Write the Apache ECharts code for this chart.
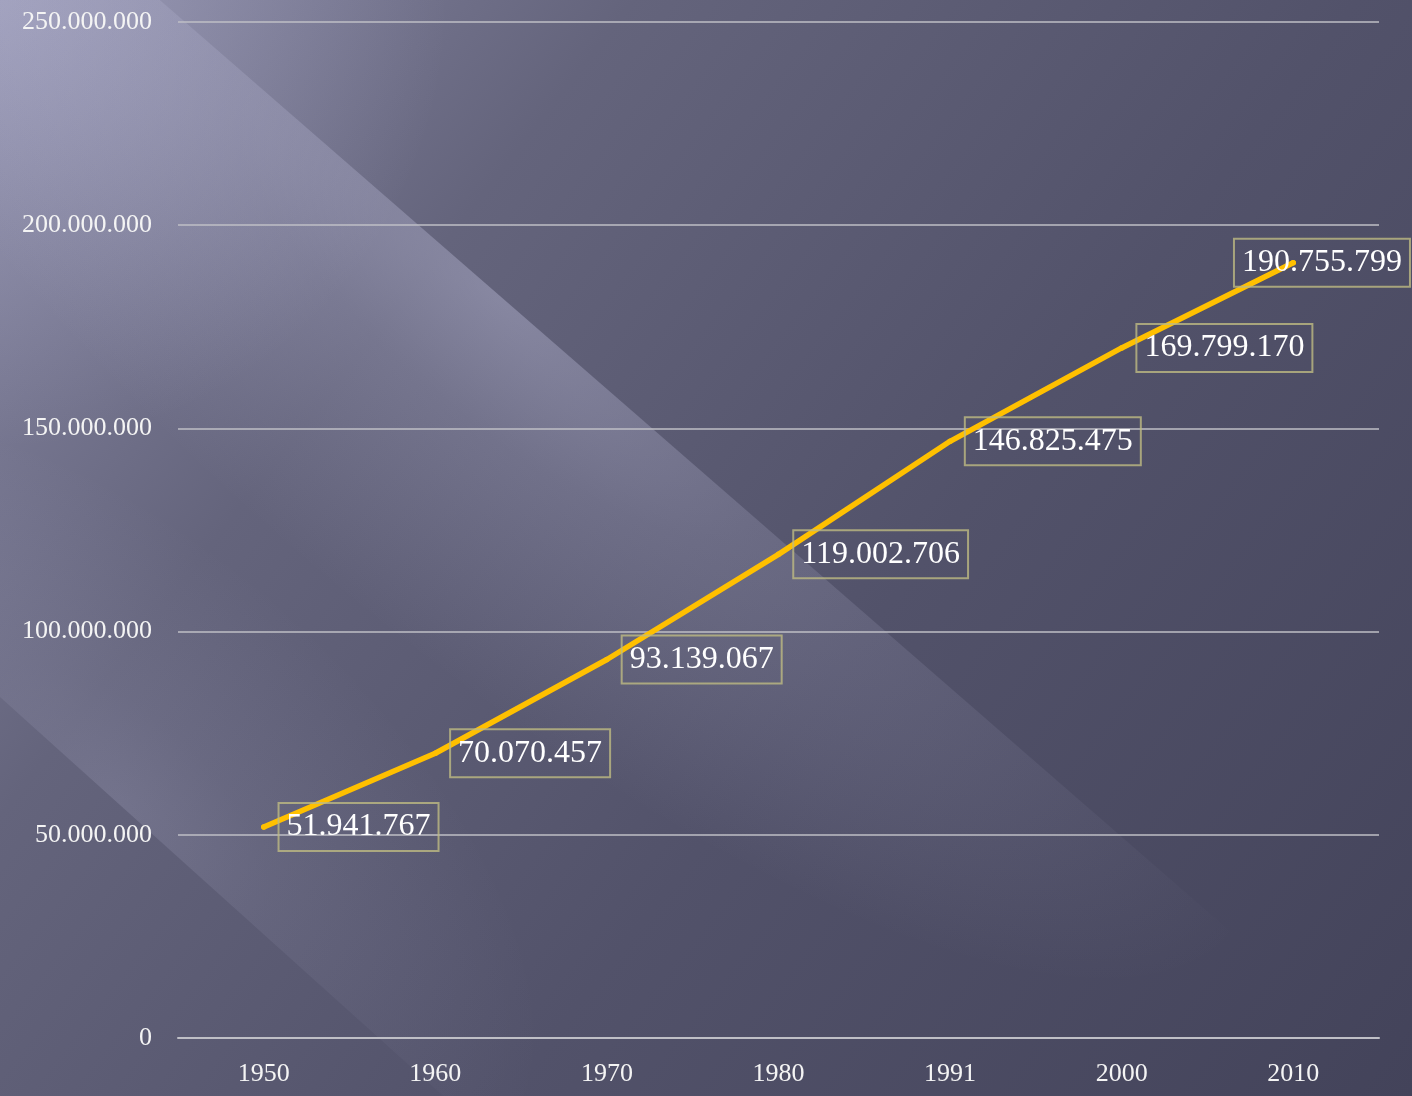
<!DOCTYPE html>
<html>
<head>
<meta charset="utf-8">
<style>html,body{margin:0;padding:0;background:#50506a;}#c{width:1412px;height:1096px;}</style>
<script src="https://cdn.jsdelivr.net/npm/echarts@6/dist/echarts.min.js"></script>
</head>
<body>
<div id="c"></div>
<script>
const years = ['1950','1960','1970','1980','1991','2000','2010'];
const population = [51941767, 70070457, 93139067, 119002706, 146825475, 169799170, 190755799];
const yTicks = [0, 50000000, 100000000, 150000000, 200000000, 250000000];

function fmt(v){ return String(v).replace(/\B(?=(\d{3})+(?!\d))/g, '.'); }

// decorative light ray for the background (not data): half-ellipse glow with one sharp edge
function ray(cx, cy, slope, halfLen, width, below, a0){
  return {type:'rect', z:-9, silent:true,
    shape:{x:-100, y: below ? 0 : -100, width:200, height:100},
    x:cx, y:cy, rotation:-Math.atan(slope), scaleX:halfLen/100, scaleY:width/100,
    style:{fill:{type:'radial', x:0.5, y: below ? 0 : 1, r:1, colorStops:[
      {offset:0,color:'rgba(215,215,245,'+a0+')'},
      {offset:0.35,color:'rgba(215,215,245,'+(a0*0.5)+')'},
      {offset:1,color:'rgba(215,215,245,0)'}]}}};
}

const graphics = [
  {type:'rect', z:-10, silent:true, shape:{x:0,y:0,width:1412,height:1096},
   style:{fill:{type:'linear',x:0,y:0,x2:1412,y2:1096,global:true,colorStops:[
     {offset:0,color:'#8a8aa6'},{offset:0.28,color:'#64647c'},{offset:0.6,color:'#52526a'},{offset:1,color:'#43435a'}]}}},
  {type:'circle', z:-9, silent:true, shape:{cx:0,cy:0,r:450},
   style:{fill:{type:'radial',x:0.5,y:0.5,r:0.5,colorStops:[{offset:0,color:'rgba(210,210,240,0.28)'},{offset:1,color:'rgba(210,210,240,0)'}]}}},
  ray(500, 296, 0.87, 980, 330, true, 0.32),
  ray(120, 805, 0.9, 520, 260, false, 0.15)
];

const lastIdx = population.length - 1;
const seriesData = population.map((v, i) => i === lastIdx ? {value: v, label: {offset: [-74, 0]}} : v);

const chart = echarts.init(document.getElementById('c'), null, {renderer:'canvas'});
chart.setOption({
  animation:false,
  backgroundColor:'transparent',
  graphic:graphics,
  grid:{left:178, right:33, top:22, bottom:58, containLabel:false},
  xAxis:{
    type:'category', data:years, boundaryGap:true,
    axisLine:{show:true, lineStyle:{color:'#bfbfc6', width:2}},
    axisTick:{show:false},
    axisLabel:{color:'#f4f4f4', fontSize:26, fontFamily:'Liberation Serif', margin:23}
  },
  yAxis:{
    type:'value', min:0, max:250000000, interval:50000000,
    axisLine:{show:false}, axisTick:{show:false},
    splitLine:{lineStyle:{color:'#bfbfc6', width:1.5}},
    axisLabel:{color:'#f4f4f4', fontSize:26, fontFamily:'Liberation Serif', margin:26,
      formatter:(v)=> yTicks.includes(v) ? fmt(v) : ''}
  },
  series:[{
    type:'line', data:seriesData, smooth:false, showSymbol:true, symbol:'circle', symbolSize:5.5,
    itemStyle:{color:'#FFC000'},
    lineStyle:{color:'#FFC000', width:5.5, cap:'round', join:'round'},
    label:{show:true, position:'right', distance:12, formatter:(p)=>fmt(p.value),
      color:'#ffffff', fontSize:32, fontFamily:'Liberation Serif', lineHeight:32,
      borderColor:'rgba(190,186,130,0.8)', borderWidth:2, padding:[8,8,8,8]}
  }]
});
</script>
</body>
</html>
